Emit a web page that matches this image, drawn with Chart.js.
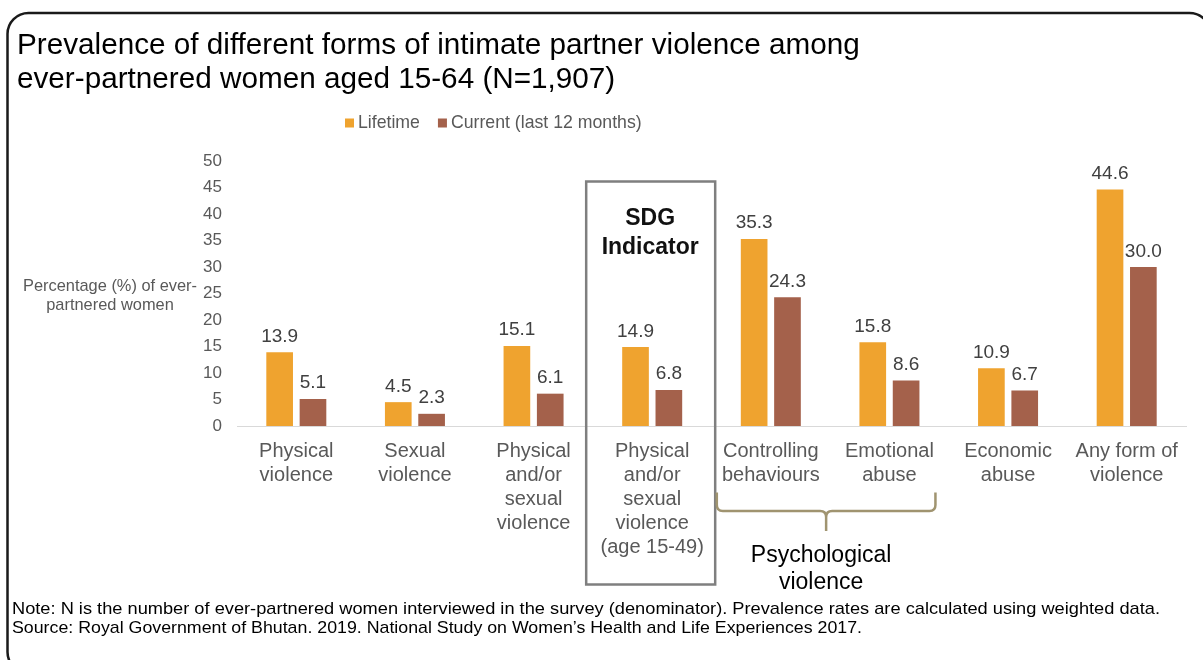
<!DOCTYPE html>
<html>
<head>
<meta charset="utf-8">
<script src="https://cdn.jsdelivr.net/npm/chart.js@4.4.1/dist/chart.umd.min.js"></script>
<style>
  html, body { margin: 0; padding: 0; background: #fff; }
  #wrap { width: 1203px; height: 660px; }
</style>
</head>
<body>
<div id="wrap"><canvas id="ipvChart" width="1203" height="660"></canvas></div>
<script>
// Categories (multi-line tick labels)
const categories = [
  ["Physical", "violence"],
  ["Sexual", "violence"],
  ["Physical", "and/or", "sexual", "violence"],
  ["Physical", "and/or", "sexual", "violence", "(age 15-49)"],
  ["Controlling", "behaviours"],
  ["Emotional", "abuse"],
  ["Economic", "abuse"],
  ["Any form of", "violence"]
];

// Series values (%)
const lifetime = [13.9, 4.5, 15.1, 14.9, 35.3, 15.8, 10.9, 44.6];
const current = [5.1, 2.3, 6.1, 6.8, 24.3, 8.6, 6.7, 30.0];

const seriesNames = ["Lifetime", "Current (last 12 months)"];
const seriesColors = ["#EFA32F", "#A4614B"];

const titleLines = [
  "Prevalence of different forms of intimate partner violence among",
  "ever-partnered women aged 15-64 (N=1,907)"
];
const yTitleLines = ["Percentage (%) of ever-", "partnered women"];
const noteLines = [
  "Note: N is the number of ever-partnered women interviewed in the survey (denominator). Prevalence rates are calculated using weighted data.",
  "Source: Royal Government of Bhutan. 2019. National Study on Women\u2019s Health and Life Experiences 2017."
];
const noteWidths = [1148, 850];

const FONT = "'Liberation Sans', Arial, Helvetica, sans-serif";

// Everything that is not a bar: frame, titles, legend, value labels, SDG box, brace, notes
const decorations = {
  id: "decorations",
  afterDatasetsDraw(chart) {
    const ctx = chart.ctx;
    const x = chart.scales.x;

    ctx.save();

    // value labels above bars
    ctx.font = "19px " + FONT;
    ctx.fillStyle = "#404040";
    ctx.textAlign = "center";
    ctx.textBaseline = "alphabetic";
    chart.data.datasets.forEach((ds, i) => {
      chart.getDatasetMeta(i).data.forEach((bar, j) => {
        ctx.fillText(ds.data[j].toFixed(1), bar.x, bar.y - 10.5);
      });
    });

    // SDG indicator box around category 4
    const c3 = x.getPixelForValue(3);
    ctx.strokeStyle = "#7F7F7F";
    ctx.lineWidth = 2.5;
    ctx.strokeRect(c3 - 66, 181.5, 129, 403);
    ctx.fillStyle = "#111";
    ctx.font = "bold 23px " + FONT;
    ctx.fillText("SDG", c3 - 2, 225);
    ctx.fillText("Indicator", c3 - 2, 254);

    // brace under Controlling behaviours + Emotional abuse
    const bl = x.getPixelForValue(4) - 54;
    const br = x.getPixelForValue(5) + 46;
    const bm = (bl + br) / 2;
    const top = 492.5, mid = 511, tip = 531;
    ctx.strokeStyle = "#A09470";
    ctx.lineWidth = 2.5;
    ctx.beginPath();
    ctx.moveTo(bl, top);
    ctx.lineTo(bl, mid - 6);
    ctx.quadraticCurveTo(bl, mid, bl + 6, mid);
    ctx.lineTo(bm - 6, mid);
    ctx.quadraticCurveTo(bm, mid, bm, mid + 6);
    ctx.lineTo(bm, tip);
    ctx.moveTo(bm, mid + 6);
    ctx.quadraticCurveTo(bm, mid, bm + 6, mid);
    ctx.lineTo(br - 6, mid);
    ctx.quadraticCurveTo(br, mid, br, mid - 6);
    ctx.lineTo(br, top);
    ctx.stroke();
    ctx.fillStyle = "#000";
    ctx.font = "23px " + FONT;
    ctx.fillText("Psychological", bm - 5, 561.5);
    ctx.fillText("violence", bm - 5, 589);

    // y-axis title (horizontal, two lines)
    ctx.fillStyle = "#595959";
    ctx.font = "16.4px " + FONT;
    yTitleLines.forEach((t, i) => ctx.fillText(t, 110, 291 + i * 19));

    // title
    ctx.textAlign = "left";
    ctx.fillStyle = "#000";
    ctx.font = "29.7px " + FONT;
    titleLines.forEach((t, i) => ctx.fillText(t, 17, 54 + i * 34));

    // legend
    ctx.font = "17.7px " + FONT;
    ctx.textBaseline = "middle";
    let lx = 345;
    seriesNames.forEach((name, i) => {
      ctx.fillStyle = seriesColors[i];
      ctx.fillRect(lx, 118.5, 9, 9);
      lx += 13;
      ctx.fillStyle = "#595959";
      ctx.fillText(name, lx, 123.5);
      lx += ctx.measureText(name).width + 18;
    });

    // notes
    ctx.textBaseline = "alphabetic";
    ctx.fillStyle = "#000";
    ctx.font = "17px " + FONT;
    noteLines.forEach((t, i) => {
      const sx = noteWidths[i] / ctx.measureText(t).width;
      ctx.save();
      ctx.translate(12, 0);
      ctx.scale(sx, 1);
      ctx.fillText(t, 0, 614 + i * 19);
      ctx.restore();
    });

    // rounded outer frame
    ctx.strokeStyle = "#1a1a1a";
    ctx.lineWidth = 2.5;
    ctx.beginPath();
    ctx.roundRect(7.5, 13, 1203, 660, 21);
    ctx.stroke();

    ctx.restore();
  }
};

const ctx = document.getElementById("ipvChart").getContext("2d");
const ipvChart = new Chart(ctx, {
  type: "bar",
  data: {
    labels: categories,
    datasets: [
      {
        label: seriesNames[0],
        data: lifetime,
        backgroundColor: seriesColors[0],
        borderWidth: 0,
        categoryPercentage: 0.562,
        barPercentage: 0.8
      },
      {
        label: seriesNames[1],
        data: current,
        backgroundColor: seriesColors[1],
        borderWidth: 0,
        categoryPercentage: 0.562,
        barPercentage: 0.8
      }
    ]
  },
  options: {
    responsive: false,
    animation: false,
    layout: { padding: { top: 161, left: 0, right: 17, bottom: 0 } },
    plugins: {
      legend: { display: false },
      title: { display: false },
      tooltip: { enabled: false }
    },
    scales: {
      x: {
        grid: { display: false, drawTicks: false },
        border: { display: true, color: "#D9D9D9", width: 1 },
        ticks: {
          color: "#595959",
          font: { family: FONT, size: 20, lineHeight: 1.2 },
          padding: 13,
          maxRotation: 0,
          autoSkip: false
        },
        afterFit(scale) { scale.height = 234; }
      },
      y: {
        min: 0,
        max: 50,
        grid: { display: false, drawTicks: false },
        border: { display: false },
        ticks: {
          stepSize: 5,
          color: "#595959",
          font: { family: FONT, size: 17 },
          padding: 15
        },
        afterFit(scale) { scale.width = 237; }
      }
    }
  },
  plugins: [decorations]
});
</script>
</body>
</html>
